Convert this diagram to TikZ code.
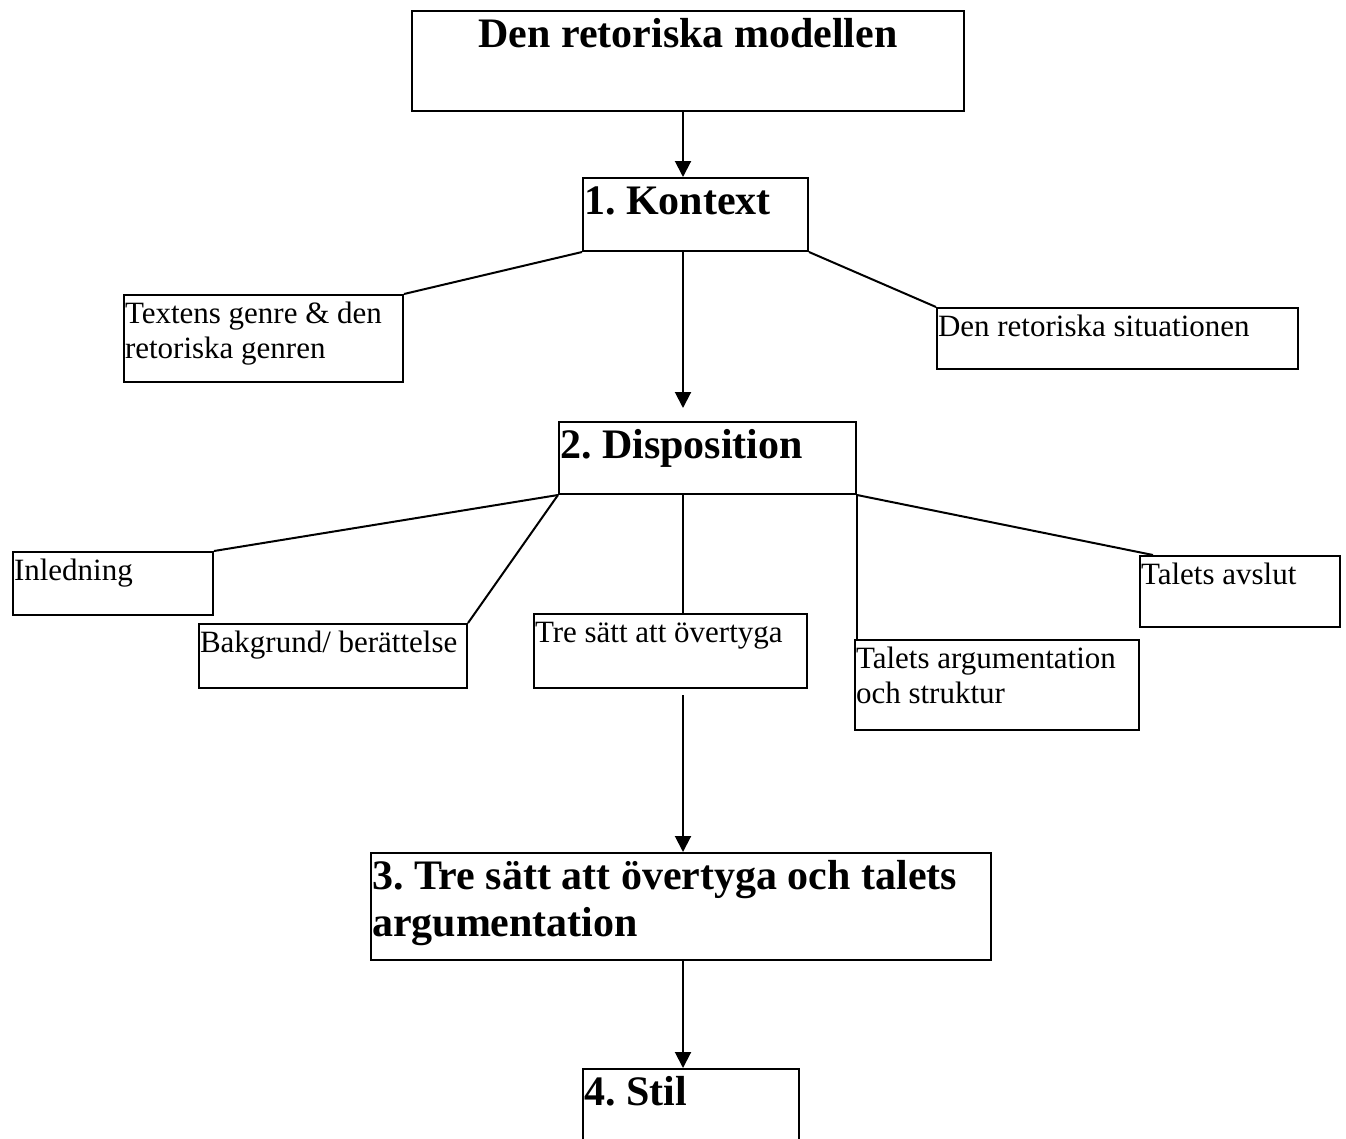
\documentclass[tikz,border=0pt]{standalone}
\usepackage{fontspec}
\setmainfont{Liberation Serif}
\usetikzlibrary{arrows.meta}
\frenchspacing

\newcommand{\normaltext}{\fontsize{31}{35}\selectfont}
\newcommand{\headtext}{\fontsize{42}{47}\selectfont\bfseries}
\newcommand{\boxtxt}[3]{\parbox[t][\dimexpr #2pt-8pt\relax][t]{\dimexpr #1pt-2pt\relax}{\raggedright\strut #3}}

\begin{document}
\begin{tikzpicture}[x=1pt, y=-1pt, >={Triangle[length=16pt,width=16pt]},
  box/.style={draw, line width=2pt, inner xsep=1pt, inner ysep=4pt, anchor=north west, font=\normaltext},
  headbox/.style={box, font=\headtext},
  link/.style={line width=2pt}]

% Seite
\useasboundingbox (0,0) rectangle (1346,1138);
\fill[white] (0,0) rectangle (1346,1138);

% Hauptkette
\node[headbox] (title)   at (411,10)   {\boxtxt{552}{100}{\centering Den retoriska modellen}};
\node[headbox] (kontext) at (582,177)  {\boxtxt{225}{73}{1. Kontext}};
\node[headbox] (dispo)   at (558,421)  {\boxtxt{297}{72}{2. Disposition}};
\node[headbox] (argum)   at (370,852)  {\boxtxt{620}{107}{3. Tre sätt att övertyga och talets\\argumentation}};
\node[headbox] (stil)    at (582,1068) {\boxtxt{216}{90}{4. Stil}};

% Kontext-Teile
\node[box] (genre)     at (123,294) {\boxtxt{279}{87}{Textens genre \& den\\retoriska genren}};
\node[box] (situation) at (936,307) {\boxtxt{361}{61}{Den retoriska situationen}};

% Dispositions-Teile
\node[box] (inledning) at (12,551)   {\boxtxt{200}{63}{Inledning}};
\node[box] (bakgrund)  at (198,623)  {\boxtxt{268}{64}{Bakgrund/ berättelse}};
\node[box] (tresatt)   at (533,613)  {\boxtxt{273}{74}{Tre sätt att övertyga}};
\node[box] (talarg)    at (854,639)  {\boxtxt{284}{90}{Talets argumentation\\och struktur}};
\node[box] (avslut)    at (1139,555) {\boxtxt{200}{71}{Talets avslut}};

% Mittelachse
\coordinate (mid) at (683,0);

% Pfeile
\draw[link,->] (title.south -| mid) -- (kontext.north -| mid);
\draw[link,->,shorten >=13pt] (kontext.south -| mid) -- (dispo.north -| mid);
\draw[link,->,shorten <=6pt] (tresatt.south -| mid) -- (argum.north -| mid);
\draw[link,->] (argum.south -| mid) -- (stil.north -| mid);

% Linien
\draw[link] (kontext.south west) -- (genre.north east);
\draw[link] (kontext.south east) -- (situation.north west);
\draw[link] (dispo.south west) -- (inledning.north east);
\draw[link] (dispo.south west) -- (bakgrund.north east);
\draw[link] (dispo.south -| mid) -- (tresatt.north -| mid);
\draw[link] (dispo.south east) -- (dispo.south east |- talarg.north);
\draw[link] (dispo.south east) -- ([xshift=14pt]avslut.north west);

\end{tikzpicture}
\end{document}
